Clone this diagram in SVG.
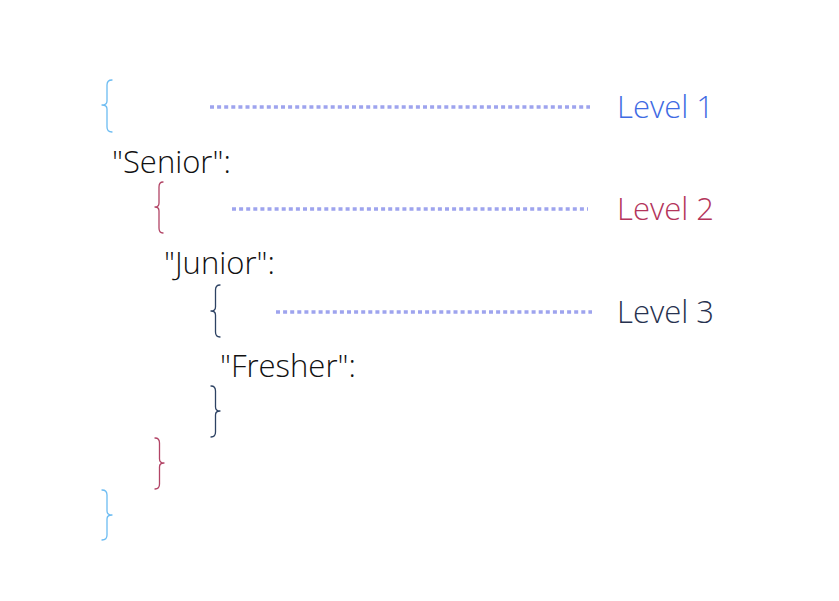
<svg xmlns="http://www.w3.org/2000/svg" width="839" height="601" viewBox="0 0 839 601">
<style>
.t{font-family:"Open Sans","Noto Sans","Liberation Sans",sans-serif;font-weight:300;font-size:31px;fill:#111}
.br{fill:none;stroke-width:1.3;stroke-linecap:round;stroke-linejoin:round}
.dot{stroke:#9ea4ee;stroke-width:3.5;stroke-dasharray:4 3.1}
</style>
<rect width="839" height="601" fill="#fff"/>
<g id="braces">
<g id="brace-open-1"><path class="br" stroke="#6cbcf2" d="M112,80 Q107,80 107,85 L107,101 Q107,105 102,105 Q107,105 107,109 L107,127 Q107,132 112,132"/></g>
<g id="brace-open-2"><path class="br" stroke="#b24466" d="M163,182 Q159,182 159,187 L159,203 Q159,207 155,207 Q159,207 159,211 L159,228 Q159,233 163,233"/></g>
<g id="brace-open-3"><path class="br" stroke="#2d4263" d="M220,285 Q215.5,285 215.5,290 L215.5,307 Q215.5,311 211,311 Q215.5,311 215.5,315 L215.5,332 Q215.5,337 220,337"/></g>
<g id="brace-close-3"><path class="br" stroke="#2d4263" d="M211,386 Q215.5,386 215.5,391 L215.5,407 Q215.5,411 220,411 Q215.5,411 215.5,415 L215.5,432 Q215.5,437 211,437"/></g>
<g id="brace-close-2"><path class="br" stroke="#b24466" d="M155,438 Q159.5,438 159.5,443 L159.5,459 Q159.5,463 164,463 Q159.5,463 159.5,467 L159.5,484 Q159.5,489 155,489"/></g>
<g id="brace-close-1"><path class="br" stroke="#6cbcf2" d="M102,490 Q107,490 107,495 L107,511 Q107,515 112,515 Q107,515 107,519 L107,535 Q107,540 102,540"/></g>
</g>
<g id="keys">
<g id="key-senior"><text class="t" x="112" y="173">"Senior":</text></g>
<g id="key-junior"><text class="t" x="164" y="274">"Junior":</text></g>
<g id="key-fresher"><text class="t" x="220" y="377">"Fresher":</text></g>
</g>
<g id="connectors">
<line class="dot" x1="210" y1="107" x2="590" y2="107"/>
<line class="dot" x1="232" y1="209" x2="588" y2="209"/>
<line class="dot" x1="276" y1="312" x2="592" y2="312"/>
</g>
<g id="labels">
<g id="level-1"><text class="t" x="617" y="118" style="fill:#3f6be3">Level 1</text></g>
<g id="level-2"><text class="t" x="617" y="220" style="fill:#b4355b">Level 2</text></g>
<g id="level-3"><text class="t" x="617" y="323" style="fill:#27324f">Level 3</text></g>
</g>
</svg>
